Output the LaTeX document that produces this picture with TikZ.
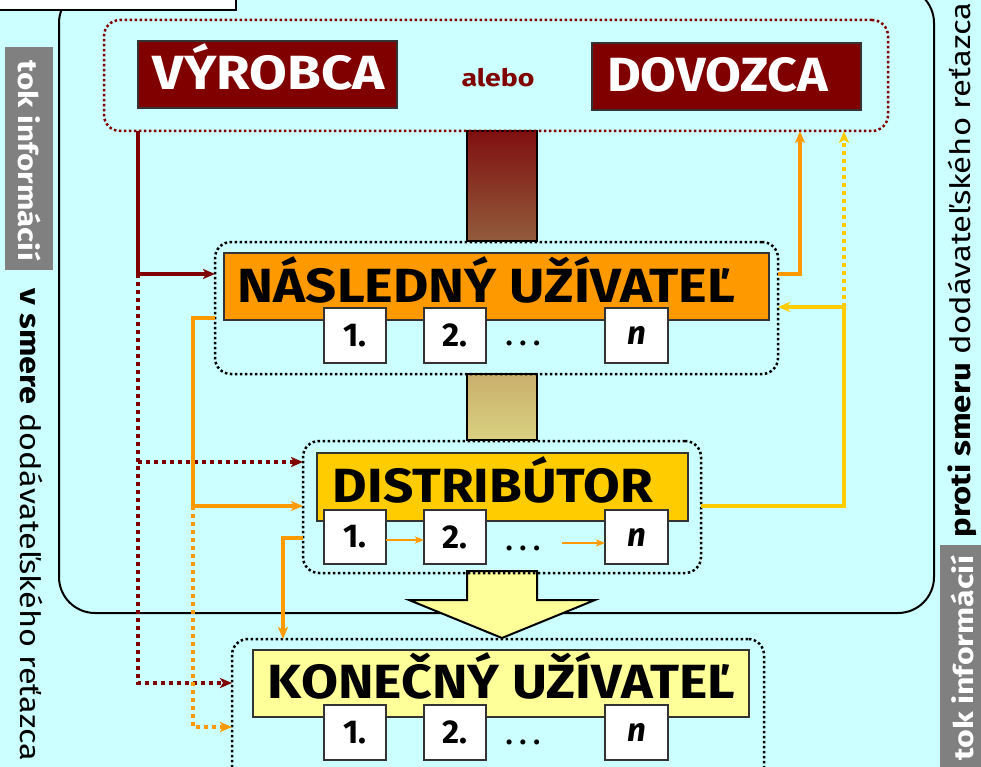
\documentclass[tikz,border=0pt]{standalone}
\usepackage{fontspec}
\setmainfont{Fira Sans}
\usepackage{graphicx}
\usetikzlibrary{arrows.meta}
\definecolor{bg}{HTML}{CCFFFF}
\definecolor{dred}{HTML}{800000}
\definecolor{org}{HTML}{FF9900}
\definecolor{ylw}{HTML}{FFCC00}
\definecolor{lylw}{HTML}{FFFF99}
\definecolor{gry}{HTML}{808080}
\definecolor{barAtop}{HTML}{801010}
\definecolor{barAbot}{HTML}{925C3C}
\definecolor{barBtop}{HTML}{C8B06C}
\definecolor{barBbot}{HTML}{DAD080}
\newcommand\fw[2]{\resizebox{#1pt}{\height}{#2}}
\newcommand\threedots{.\hspace{7pt}.\hspace{7pt}.}
\begin{document}
\begin{tikzpicture}[x=1pt,y=-1pt,
  grp/.style={draw=black, line width=2.5pt, dash pattern=on 2.5pt off 2.5pt, rounded corners=16pt, inner sep=0pt, outer sep=0pt},
  colbox/.style={draw=black!80, line width=1.5pt, inner sep=0pt, outer sep=0pt, minimum height=67pt},
  sub/.style={draw=black!80, fill=white, line width=1.5pt, minimum width=62pt, minimum height=55pt, inner sep=0pt, outer sep=0pt, font=\bfseries\fontsize{33}{33}\selectfont},
  big/.style={anchor=base, inner sep=0pt, font=\bfseries\fontsize{48}{48}\selectfont},
  bar/.style={draw=black, line width=2pt, minimum width=70pt, inner sep=0pt, outer sep=0pt},
  arr/.style={-{Stealth[length=12pt,width=10pt,inset=3pt]}},
  tarr/.style={-{Stealth[length=9pt,width=7pt,inset=2pt]}},
  solidl/.style={line width=3.5pt},
  dotl/.style={line width=4pt, dash pattern=on 4pt off 4pt},
  dotsl/.style={anchor=base, inner sep=0pt, font=\bfseries\fontsize{28}{28}\selectfont}
]
\useasboundingbox (0,0) rectangle (981,767);
\clip (0,0) rectangle (981,767);
\fill[bg] (0,0) rectangle (981,767);

% big frame
\draw[line width=2pt, rounded corners=36pt] (59,-13) rectangle (934,613);
% cut-off box at top left
\draw[fill=white, line width=2pt] (-5,-10) rectangle (236,10);

% gradient bars
\node[bar, minimum height=110pt, top color=barAtop, bottom color=barAbot] (bar1) at (502,186) {};
\node[bar, minimum height=66pt, top color=barBtop, bottom color=barBbot] (bar2) at (502,407) {};

% big down arrow
\draw[fill=lylw, line width=2pt, line join=miter] (467,571) -- (537,571) -- (537,600) -- (595,600) -- (502,638) -- (409,600) -- (467,600) -- cycle;

% groups
\node[grp, draw=dred, minimum width=784pt, minimum height=111pt] (g0) at (496,75.5) {};
\node[grp, minimum width=563pt, minimum height=132pt] (g1) at (496.5,308) {};
\node[grp, minimum width=398pt, minimum height=132pt] (g2) at (502,507) {};
\node[grp, minimum width=532pt, minimum height=161pt] (g3) at (498,719.5) {};

% colored boxes
\node[colbox, fill=dred, minimum width=259pt] (vyr) at (267.5,74.5) {};
\node[colbox, fill=dred, minimum width=269pt] (dov) at (726.5,76.5) {};
\node[colbox, fill=org, minimum width=545pt] (nas) at (496.5,286.5) {};
\node[colbox, fill=ylw, minimum width=371pt, minimum height=68pt] (dis) at (502.5,487) {};
\node[colbox, fill=lylw, minimum width=496pt] (kon) at (501,683.5) {};

% labels
\node[big, text=white] (tvyr) at (269,90) {\fw{232}{VÝROBCA}};
\node[big, text=white] (tdov) at (717.5,92) {\fw{221}{DOVOZCA}};
\node[anchor=base, inner sep=0pt, text=dred, font=\bfseries\fontsize{24}{24}\selectfont] (alebo) at (498,87) {\fw{73}{alebo}};
\node[big] (tnas) at (486.5,302) {\fw{497}{NÁSLEDNÝ UŽÍVATEĽ}};
\node[big] (tdis) at (493,502) {\fw{320}{DISTRIBÚTOR}};
\node[big] (tkon) at (501.5,698) {\fw{467}{KONEČNÝ UŽÍVATEĽ}};

% sub boxes
\node[sub] (n1a) at (355,335.5) {1.};
\node[sub] (n1b) at (455,335.5) {2.};
\node[sub, minimum width=63pt] (n1n) at (636.5,335.5) {\textbf{\textit{n}}};
\node[dotsl] (d1) at (523,345) {\threedots};
\node[sub, minimum height=54pt] (n2a) at (355,537) {1.};
\node[sub, minimum height=54pt] (n2b) at (455,537) {2.};
\node[sub, minimum width=63pt, minimum height=54pt] (n2n) at (636.5,537) {\textbf{\textit{n}}};
\node[dotsl] (d2) at (523,550) {\threedots};
\node[sub] (n3a) at (355,732.5) {1.};
\node[sub] (n3b) at (455,732.5) {2.};
\node[sub, minimum width=63pt] (n3n) at (636.5,732.5) {\textbf{\textit{n}}};
\node[dotsl] (d3) at (523,744) {\threedots};

% connector coordinates
\coordinate (c1) at (138,274);
\coordinate (c2) at (138,462);
\coordinate (c3) at (138,683);
\coordinate (c4) at (193,318);
\coordinate (c5) at (193,506);
\coordinate (c6) at (193,727);
\coordinate (c7) at (283,538);
\coordinate (c8) at (800,274);
\coordinate (c9) at (844,506);
\coordinate (c10) at (844,307);
\coordinate (c11) at (562,543);

% dark red
\draw[dred, solidl, arr] (g0.south -| c1) -- (c1) -- (g1.west |- c1);
\draw[dred, dotl, arr] (c1) -- (c3) -- (g3.west |- c3);
\draw[dred, dotl, arr] (c2) -- (g2.west |- c2);
% orange
\draw[org, solidl] (g1.west |- c4) -- (c4) -- (c5);
\draw[org, solidl, arr] (c5) -- (g2.west |- c5);
\draw[org, dotl, arr] (c5) -- (c6) -- (g3.west |- c6);
\draw[org, solidl, arr] (g2.west |- c7) -- (c7) -- (c7 |- g3.north);
\draw[org, solidl, arr] (g1.east |- c8) -- (c8) -- (c8 |- g0.south);
% yellow
\draw[ylw, solidl] (g2.east |- c9) -- (c9) -- (c10);
\draw[ylw, solidl, arr] (c10) -- (g1.east |- c10);
\draw[ylw, dotl, arr] (c10) -- (c10 |- g0.south);
% thin arrows
\draw[org, line width=1.5pt, tarr] (n2a.east |- 0,540) -- (n2b.west |- 0,540);
\draw[org, line width=1.5pt, tarr] (c11) -- (n2n.west |- c11);

% side texts
\node[fill=gry, minimum width=48pt, minimum height=223pt, inner sep=0pt] (lg) at (29,158.5) {};
\node[rotate=-90, text=white, inner sep=0pt, font=\bfseries\fontsize{27}{27}\selectfont] (lt) at (30,161) {\fw{200}{tok informácií}};
\node[rotate=-90, inner sep=0pt, font=\fontsize{28}{28}\selectfont] (lt2) at (31,525) {\fw{472}{\textbf{v smere} dodávateľského reťazca}};

\node[fill=gry, minimum width=48pt, minimum height=230pt, inner sep=0pt] (rg) at (964,660) {};
\node[rotate=90, text=white, inner sep=0pt, font=\bfseries\fontsize{27}{27}\selectfont] (rt) at (962,658) {\fw{205}{tok informácií}};
\node[rotate=90, inner sep=0pt, font=\fontsize{28}{28}\selectfont] (rt2) at (962,270) {\fw{535}{\textbf{proti smeru} dodávateľského reťazca}};
\end{tikzpicture}
\end{document}
